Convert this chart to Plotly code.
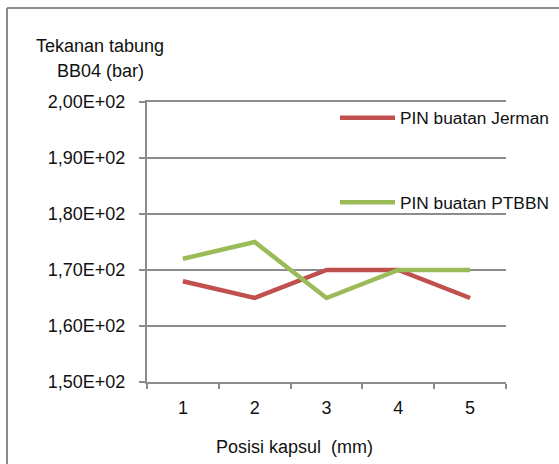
import plotly.graph_objects as go

categories = ["1", "2", "3", "4", "5"]
jerman = [168, 165, 170, 170, 165]
ptbbn = [172, 175, 165, 170, 170]
y_ticks = [150, 160, 170, 180, 190, 200]
y_tick_labels = ["1,50E+02", "1,60E+02", "1,70E+02", "1,80E+02", "1,90E+02", "2,00E+02"]

W, H = 559, 464
L, R, T, B = 147, 53, 102, 82
pw, ph = W - L - R, H - T - B

def px(x):
    return (x - L) / pw

def py(y):
    return (H - B - y) / ph

FONT = "Liberation Sans, Arial, sans-serif"
GRID = "#8c8c8c"
FS = 18

fig = go.Figure()
fig.add_trace(go.Scatter(x=categories, y=jerman, mode="lines", name="PIN buatan Jerman",
                         line=dict(color="#C0504D", width=4.5), legendgroup="a"))
fig.add_trace(go.Scatter(x=categories, y=ptbbn, mode="lines", name="PIN buatan PTBBN",
                         line=dict(color="#9BBB59", width=4.5), legendgroup="b"))

fig.update_layout(
    width=W, height=H,
    margin=dict(l=L, r=R, t=T, b=B, autoexpand=False),
    paper_bgcolor="white", plot_bgcolor="white",
    font=dict(family=FONT, size=FS, color="#111111"),
    legend=dict(x=px(335), y=py(100), xanchor="left", yanchor="top",
                bgcolor="rgba(0,0,0,0)", tracegroupgap=59, itemwidth=55,
                font=dict(size=17.3), traceorder="grouped"),
    xaxis=dict(type="category", range=[-0.5, 4.5], showgrid=False,
               showline=True, linecolor=GRID, linewidth=2, mirror=True,
               ticks="outside", tickson="boundaries", ticklen=5, tickcolor=GRID, tickwidth=2,
               ticklabelstandoff=8),
    yaxis=dict(range=[150, 200], tickvals=y_ticks, ticktext=y_tick_labels,
               showgrid=True, gridcolor=GRID, gridwidth=1.5,
               showline=True, linecolor=GRID, linewidth=2,
               ticks="outside", ticklen=6, tickcolor=GRID, tickwidth=2,
               ticklabelstandoff=10, zeroline=False),
    annotations=[
        dict(text="Tekanan tabung", xref="paper", yref="paper", x=px(100), y=py(46),
             xanchor="center", yanchor="middle", showarrow=False, font=dict(size=FS)),
        dict(text="BB04 (bar)", xref="paper", yref="paper", x=px(100), y=py(71),
             xanchor="center", yanchor="middle", showarrow=False, font=dict(size=FS)),
        dict(text="Posisi kapsul\u00a0 (mm)", xref="paper", yref="paper", x=px(294), y=py(447),
             xanchor="center", yanchor="middle", showarrow=False, font=dict(size=FS)),
    ],
    shapes=[
        dict(type="line", xref="paper", yref="paper", x0=px(7), x1=px(7), y0=py(8), y1=py(464),
             line=dict(color=GRID, width=2)),
        dict(type="line", xref="paper", yref="paper", x0=px(7), x1=px(559), y0=py(8), y1=py(8),
             line=dict(color=GRID, width=2)),
    ],
)

fig.write_html("out.html", config={"displayModeBar": False},
               post_script="document.body.style.margin='0';")
